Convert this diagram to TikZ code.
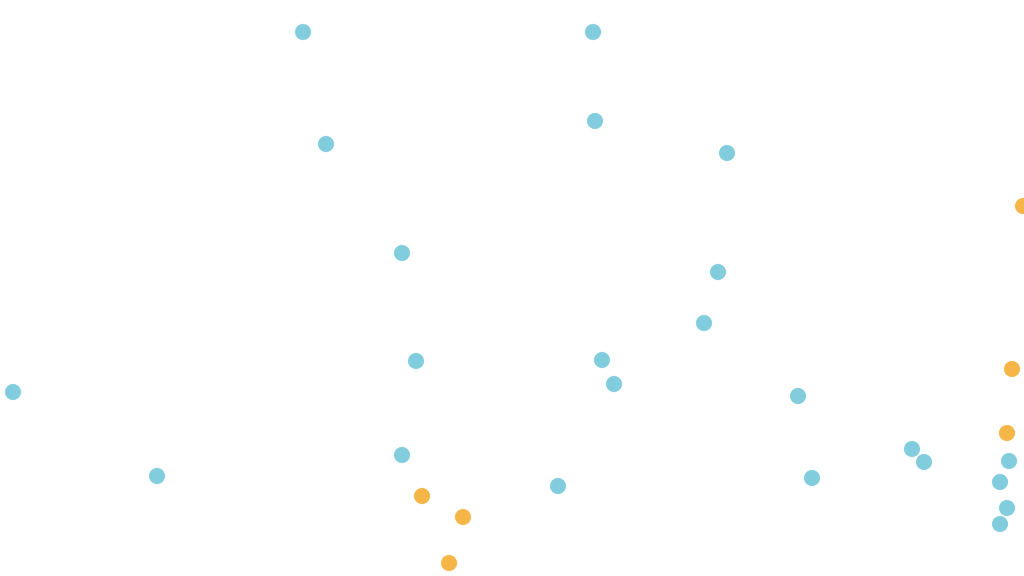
\documentclass[tikz,border=0pt]{standalone}
\usepackage{tikz}
\definecolor{dotblue}{HTML}{82CDDD}
\definecolor{dotorange}{HTML}{F5B547}
\tikzstyle{point}=[circle,draw=white,line width=0.2pt,minimum size=0.17cm,inner sep=0pt,outer sep=0pt]

\begin{document}
\begin{tikzpicture}[x=0.01cm,y=-0.01cm]
    \useasboundingbox (0,0) rectangle (1024,576);
    % First the blue points
    \foreach \pos/ \name in {{(303,32)/b1},{(593,32)/b2},{(595,121)/b3},{(326,144)/b4},
        {(727,153)/b5},{(402,253)/b6},{(718,272)/b7},{(704,323)/b8},{(416,361)/b9},
        {(602,360)/b10},{(614,384)/b11},{(13,392)/b12},{(798,396)/b13},{(402,455)/b14},
        {(157,476)/b15},{(558,486)/b16},{(812,478)/b17},{(912,449)/b18},{(924,462)/b19},
        {(1009,461)/b20},{(1000,482)/b21},{(1007,508)/b22},{(1000,524)/b23}}
        \node[point,fill=dotblue] (\name) at \pos {};

    % Then the orange points
    \foreach \pos/ \name in {{(1023,206)/o1},{(1012,369)/o2},{(1007,433)/o3},
        {(422,496)/o4},{(463,517)/o5},{(449,563)/o6}}
        \node[point,fill=dotorange] (\name) at \pos {};
\end{tikzpicture}
\end{document}
